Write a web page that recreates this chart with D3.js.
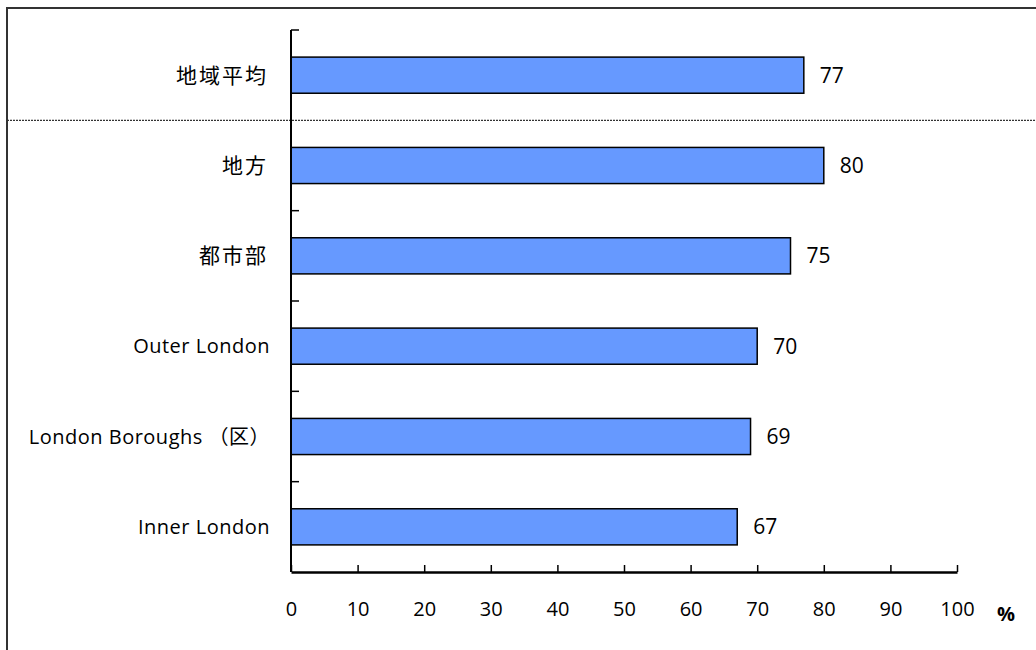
<!DOCTYPE html>
<html>
<head>
<meta charset="utf-8">
<script src="https://cdn.jsdelivr.net/npm/d3@7/dist/d3.min.js"></script>
<style>
  html, body { margin: 0; padding: 0; background: #fff; }
  svg { display: block; }
  .cat { font-family: "Open Sans", "Noto Sans CJK JP", sans-serif; font-size: 20px; letter-spacing: 0.5px; fill: #000; }
  .cjk { font-family: "Noto Sans CJK JP", sans-serif; font-size: 21px; letter-spacing: 2px; }
  .num { font-family: "Open Sans", "Noto Sans", sans-serif; font-size: 20px; fill: #000; }
  .val { font-size: 21px; }
</style>
</head>
<body>
<svg id="chart" width="1036" height="650"></svg>
<script>
// Categories (top to bottom) and their shares in percent
const categories = ["地域平均", "地方", "都市部", "Outer London", "London Boroughs （区）", "Inner London"];
const values = [77, 80, 75, 70, 69, 67];
const xTicks = [0, 10, 20, 30, 40, 50, 60, 70, 80, 90, 100];
const unitLabel = "%";

const svg = d3.select("#chart");
const W = 1036, H = 650;
const plot = { left: 291, right: 957, top: 30, bottom: 572 };

// Outer frame (extends past the right and bottom edges)
svg.append("rect")
  .attr("x", 7).attr("y", 8)
  .attr("width", W + 20).attr("height", H + 20)
  .attr("fill", "none").attr("stroke", "#333").attr("stroke-width", 2);

const x = d3.scaleLinear().domain([0, 100]).range([plot.left, plot.right]);
const y = d3.scaleBand().domain(categories).range([plot.top, plot.bottom])
  .paddingInner(0.6).paddingOuter(0.3);
const step = y.step();

// Bars
svg.append("g").selectAll("rect")
  .data(categories)
  .join("rect")
  .attr("x", x(0))
  .attr("y", d => y(d))
  .attr("width", (d, i) => x(values[i]) - x(0))
  .attr("height", y.bandwidth())
  .attr("fill", "#6699FF")
  .attr("stroke", "#000")
  .attr("stroke-width", 1.5);

// Value labels
svg.append("g").selectAll("text")
  .data(categories)
  .join("text")
  .attr("class", "num val")
  .attr("x", (d, i) => x(values[i]) + 16)
  .attr("y", d => y(d) + y.bandwidth() / 2)
  .attr("dy", "0.35em")
  .text((d, i) => values[i]);

// Category labels (pure CJK names set in the CJK face)
const isCjk = s => !/[A-Za-z]/.test(s);
svg.append("g").selectAll("text")
  .data(categories)
  .join("text")
  .attr("class", d => isCjk(d) ? "cat cjk" : "cat")
  .attr("x", d => isCjk(d) ? 268 : 270)
  .attr("y", d => y(d) + y.bandwidth() / 2)
  .attr("dy", "0.35em")
  .attr("text-anchor", "end")
  .text(d => d);

// Dotted separator between the average and the breakdown
const sepY = plot.top + step;
svg.append("line")
  .attr("x1", 7).attr("x2", W)
  .attr("y1", sepY).attr("y2", sepY)
  .attr("stroke", "#333").attr("stroke-width", 1.2)
  .attr("stroke-dasharray", "2,1");

// Y axis with inward ticks at category boundaries
const yAxis = svg.append("g");
yAxis.append("line")
  .attr("x1", plot.left).attr("x2", plot.left)
  .attr("y1", plot.top).attr("y2", plot.bottom)
  .attr("stroke", "#000").attr("stroke-width", 2);
const boundaries = d3.range(0, categories.length).filter(i => i !== 1).map(i => plot.top + i * step);
yAxis.selectAll("line.tick")
  .data(boundaries)
  .join("line")
  .attr("class", "tick")
  .attr("x1", plot.left).attr("x2", plot.left + 8)
  .attr("y1", d => d).attr("y2", d => d)
  .attr("stroke", "#000").attr("stroke-width", 1.5);

// X axis with inward ticks
const xAxis = svg.append("g").attr("transform", `translate(0,${plot.bottom})`)
  .call(d3.axisBottom(x).tickValues(xTicks).tickSizeInner(-7).tickSizeOuter(0).tickPadding(30));
xAxis.select(".domain").attr("stroke", "#000").attr("stroke-width", 2.5);
xAxis.selectAll(".tick line").attr("stroke", "#000").attr("stroke-width", 1.5);
xAxis.selectAll(".tick text").attr("class", "num").attr("font-family", null).attr("font-size", null);

svg.append("text")
  .attr("class", "num")
  .attr("x", 1006).attr("y", plot.bottom + 42)
  .attr("dy", "0.35em")
  .attr("text-anchor", "middle")
  .attr("font-weight", "bold")
  .text(unitLabel);
</script>
</body>
</html>
